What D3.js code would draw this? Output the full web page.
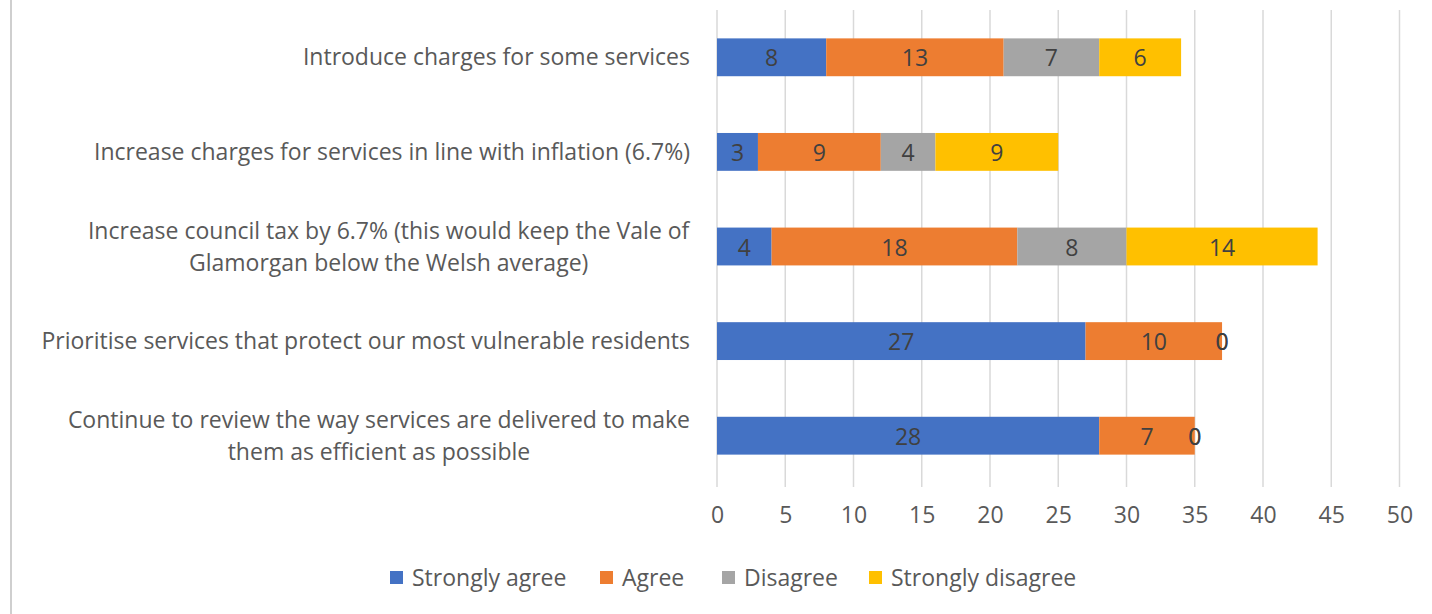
<!DOCTYPE html>
<html lang="en">

<head>
    <meta charset="utf-8">
    <script src="https://d3js.org/d3.v7.min.js"></script>
    <style>
        body { margin: 0; background: #fff; }
        svg text { font-family: "Open Sans", sans-serif; }
    </style>
</head>

<body>
    <div class="chart"></div>

    <script>
        // categories, top to bottom (each entry is a list of label lines)
        const categories = [
            ["Introduce charges for some services"],
            ["Increase charges for services in line with inflation (6.7%)"],
            ["Increase council tax by 6.7% (this would keep the Vale of", "Glamorgan below the Welsh average)"],
            ["Prioritise services that protect our most vulnerable residents"],
            ["Continue to review the way services are delivered to make", "them as efficient as possible"]
        ];
        const seriesNames = ["Strongly agree", "Agree", "Disagree", "Strongly disagree"];
        const stronglyAgree = [8, 3, 4, 27, 28];
        const agree = [13, 9, 18, 10, 7];
        const disagree = [7, 4, 8, 0, 0];
        const stronglyDisagree = [6, 9, 14, 0, 0];
        const xTicks = [0, 5, 10, 15, 20, 25, 30, 35, 40, 45, 50];
        const colours = ["#4472C4", "#ED7D31", "#A5A5A5", "#FFC000"];

        const width = 1432;
        const height = 614;
        const plot = { left: 717, right: 1399.5, top: 10, bottom: 483 };
        const fontSize = "23px";

        // build rows for the stack
        const rows = categories.map((c, i) => ({
            key: i,
            "Strongly agree": stronglyAgree[i],
            "Agree": agree[i],
            "Disagree": disagree[i],
            "Strongly disagree": stronglyDisagree[i]
        }));
        const stacked = d3.stack().keys(seriesNames)(rows);

        const svg = d3.select(".chart").append("svg")
            .attr("width", width)
            .attr("height", height);

        // left frame edge
        svg.append("line")
            .attr("x1", 11).attr("x2", 11)
            .attr("y1", 0).attr("y2", height)
            .attr("stroke", "#BFBFBF").attr("stroke-width", 1.5);

        const x = d3.scaleLinear().domain([0, 50]).range([plot.left, plot.right]);
        const y = d3.scaleBand().domain(d3.range(categories.length))
            .range([plot.top, plot.bottom]).paddingInner(0.6).paddingOuter(0.3);

        // gridlines
        svg.append("g")
            .selectAll("line")
            .data(xTicks)
            .join("line")
            .attr("x1", d => x(d)).attr("x2", d => x(d))
            .attr("y1", plot.top).attr("y2", plot.bottom + 4)
            .attr("stroke", "#D9D9D9").attr("stroke-width", 1.5);

        // x axis labels
        const xAxis = svg.append("g")
            .attr("transform", `translate(0,${plot.bottom})`)
            .call(d3.axisBottom(x).tickValues(xTicks).tickSize(0).tickPadding(24));
        xAxis.select(".domain").remove();
        xAxis.selectAll("text")
            .attr("fill", "#595959")
            .style("font-size", fontSize);

        // bars
        const layers = svg.append("g")
            .selectAll("g")
            .data(stacked)
            .join("g")
            .attr("fill", (d, i) => colours[i]);
        layers.selectAll("rect")
            .data(d => d)
            .join("rect")
            .attr("x", d => x(d[0]))
            .attr("y", d => y(d.data.key))
            .attr("width", d => x(d[1]) - x(d[0]))
            .attr("height", y.bandwidth());

        // data labels
        svg.append("g")
            .selectAll("g")
            .data(stacked)
            .join("g")
            .selectAll("text")
            .data(d => d.map(v => ({ v: v, value: v[1] - v[0] })))
            .join("text")
            .attr("x", d => x((d.v[0] + d.v[1]) / 2))
            .attr("y", d => y(d.v.data.key) + y.bandwidth() / 2)
            .attr("text-anchor", "middle")
            .attr("dominant-baseline", "central")
            .attr("fill", "#404040")
            .style("font-size", fontSize)
            .text(d => d.value);

        // category labels: right aligned block, lines centred inside it
        const labelRight = 690;
        const lineH = 32;
        const catG = svg.append("g");
        categories.forEach((lines, i) => {
            const cy = y(i) + y.bandwidth() / 2 - 1;
            const t = catG.append("text")
                .attr("fill", "#595959")
                .style("font-size", fontSize)
                .attr("text-anchor", "middle");
            lines.forEach((ln, j) => {
                t.append("tspan")
                    .attr("x", 0)
                    .attr("y", cy + (j - (lines.length - 1) / 2) * lineH)
                    .attr("dominant-baseline", "central")
                    .text(ln);
            });
            const w = t.node().getBBox().width;
            t.selectAll("tspan").attr("x", labelRight - w / 2);
        });

        // legend
        const legendX = [390, 600, 722, 869];
        const legend = svg.append("g")
            .selectAll("g")
            .data(seriesNames)
            .join("g")
            .attr("transform", (d, i) => `translate(${legendX[i]},577)`);
        legend.append("rect")
            .attr("x", 0).attr("y", -6)
            .attr("width", 13).attr("height", 13)
            .attr("fill", (d, i) => colours[i]);
        legend.append("text")
            .attr("x", 22)
            .attr("dominant-baseline", "central")
            .attr("fill", "#595959")
            .style("font-size", fontSize)
            .text(d => d);
    </script>
</body>

</html>
